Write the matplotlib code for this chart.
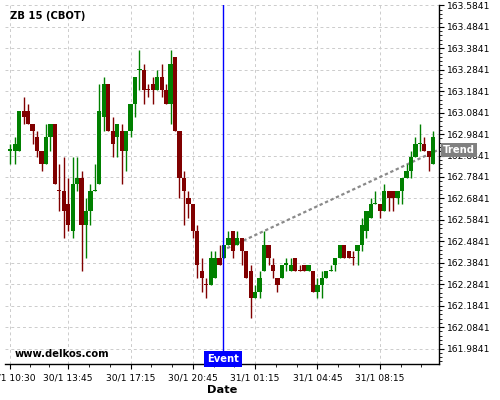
import matplotlib
matplotlib.use("Agg")
import matplotlib.pyplot as plt
import matplotlib.transforms as mtransforms
from matplotlib.ticker import FixedLocator, AutoMinorLocator
import numpy as np

# ZB 15-minute candles, prices quoted in 32nds above 162.00
base = 162.0
opens = [29, 29, 29, 35, 35, 33, 31, 29, 27, 31, 33, 23, 23, 21, 17, 24, 25, 18, 20, 23,
         24, 34, 39, 32, 31, 32, 29, 32, 36, 41, 41, 38, 39, 38, 40, 38, 36, 43, 32, 25,
         22, 21, 17, 11, 9, 9, 10, 13, 13, 15, 17, 15, 16, 14, 11, 7, 8, 11, 15, 12,
         10, 10, 12, 11, 13, 11, 12, 11, 11, 8, 9, 10, 11, 12, 13, 15, 14, 13, 14, 15,
         17, 19, 21, 21, 20, 23, 23, 22, 23, 25, 26, 28, 30, 30, 29, 27]
highs = [30, 31, 35, 37, 36, 33, 32, 29, 33, 33, 33, 27, 28, 25, 28, 28, 26, 22, 24, 27,
         39, 40, 39, 34, 33, 33, 32, 36, 40, 44, 42, 39, 40, 41, 42, 39, 44, 43, 32, 26,
         23, 21, 18, 13, 10, 14, 14, 15, 15, 17, 17, 17, 16, 14, 12, 9, 11, 17, 15, 13,
         10, 12, 13, 13, 13, 12, 12, 12, 11, 10, 11, 11, 12, 13, 15, 15, 14, 14, 15, 19,
         20, 22, 23, 21, 24, 23, 23, 23, 25, 27, 29, 31, 33, 31, 29, 32]
lows = [27, 27, 29, 33, 33, 30, 28, 26, 27, 29, 24, 20, 16, 17, 16, 23, 11, 13, 18, 23,
        24, 32, 32, 28, 28, 24, 26, 31, 34, 38, 36, 37, 36, 38, 37, 36, 33, 32, 22, 18,
        19, 16, 10, 8, 7, 9, 10, 12, 13, 15, 13, 15, 12, 10, 4, 7, 7, 11, 12, 10,
        8, 10, 11, 11, 11, 11, 11, 11, 8, 7, 7, 10, 11, 11, 13, 13, 13, 12, 12, 14,
        16, 19, 21, 19, 20, 20, 20, 21, 21, 25, 25, 28, 29, 29, 26, 27]
closes = [29, 30, 35, 34, 33, 32, 29, 27, 31, 33, 24, 23, 20, 18, 24, 25, 18, 20, 23, 23,
          35, 39, 32, 30, 33, 29, 32, 36, 40, 41, 38, 38, 38, 40, 38, 36, 42, 32, 25, 23,
          21, 17, 12, 10, 9, 13, 13, 12, 15, 16, 14, 16, 14, 10, 7, 8, 10, 15, 13, 11,
          9, 12, 12, 12, 11, 11, 11, 12, 8, 9, 10, 11, 11, 13, 15, 13, 13, 13, 15, 18,
          20, 21, 21, 20, 23, 22, 22, 23, 25, 26, 28, 30, 30, 29, 28, 31]
red_dojis = [11, 31, 44, 65, 77]

tick_pos = [0, 13, 27, 41, 55, 69, 83]
tick_labels = ["30/1 10:30", "30/1 13:45", "30/1 17:15", "30/1 20:45",
               "31/1 01:15", "31/1 04:45", "31/1 08:15"]
y_ticks = [161.9841 + 0.1 * k for k in range(17)]

event_x = 47.8
trend_x = [48.7, 96.3]
trend_y = [162.452, 162.912]

o = base + np.array(opens) / 32
h = base + np.array(highs) / 32
l = base + np.array(lows) / 32
c = base + np.array(closes) / 32
x = np.arange(len(o))

green = "#008000"
red = "#800000"
cols = []
for i in x:
    if c[i] > o[i]:
        cols.append(green)
    elif c[i] < o[i]:
        cols.append(red)
    else:
        cols.append(red if i in red_dojis else green)

fig = plt.figure(figsize=(5, 4), dpi=100)
ax = fig.add_axes([0.01, 0.09, 0.868, 0.898])

ax.vlines(x, l, h, colors=cols, linewidth=1.0, zorder=3)
ax.bar(x, np.maximum(np.abs(c - o), 0.006), bottom=np.minimum(o, c), width=0.95,
       color=cols, linewidth=0, zorder=4)

ax.plot(trend_x, trend_y, color="#8a8a8a", linestyle=(0, (1.5, 1.2)), linewidth=1.6, zorder=2)
ax.axvline(event_x, color="#0000ff", linewidth=1.0, zorder=5)

ax.set_xlim(-1.2, 96.3)
ax.set_ylim(161.912, 163.587)

ax.xaxis.set_major_locator(FixedLocator(tick_pos))
ax.set_xticklabels(tick_labels)
minor_x = []
for a, b in zip(tick_pos, tick_pos[1:] + [97]):
    minor_x += [a + (b - a) / 3, a + 2 * (b - a) / 3]
ax.xaxis.set_minor_locator(FixedLocator(minor_x))

ax.yaxis.tick_right()
ax.yaxis.set_major_locator(FixedLocator(y_ticks))
ax.set_yticklabels([f"{v:.4f}" for v in y_ticks])
ax.yaxis.set_minor_locator(AutoMinorLocator(5))

ax.tick_params(axis="both", which="major", labelsize=6.6, length=3.5, width=0.8, pad=2, direction="out")
ax.tick_params(axis="both", which="minor", length=2, width=0.6, direction="out")
ax.tick_params(axis="x", which="major", pad=3)

ax.grid(True, which="major", color="#cccccc", linestyle=(0, (3, 3)), linewidth=0.7, zorder=0)
ax.set_axisbelow(True)

for s in ["left", "top"]:
    ax.spines[s].set_visible(False)
ax.spines["right"].set_linewidth(1.0)
ax.spines["bottom"].set_linewidth(1.0)

ax.text(0.012, 0.968, "ZB 15 (CBOT)", transform=ax.transAxes, fontsize=7.2,
        fontweight="bold", ha="left", va="center")
ax.text(0.023, 0.028, "www.delkos.com", transform=ax.transAxes, fontsize=7.2,
        fontweight="bold", ha="left", va="center")

ax.set_xlabel("Date", fontsize=8.2, fontweight="bold", labelpad=2)

trans_ev = mtransforms.blended_transform_factory(ax.transData, ax.transAxes)
ax.text(event_x, 0.0, "Event", transform=trans_ev, fontsize=7.2, fontweight="bold",
        color="white", ha="center", va="bottom", zorder=6,
        bbox=dict(boxstyle="square,pad=0.3", fc="#0000ff", ec="none"))

trans_tr = mtransforms.blended_transform_factory(ax.transAxes, ax.transData)
ax.text(1.01, trend_y[-1], "Trend", transform=trans_tr, fontsize=7.2, fontweight="bold",
        color="white", ha="left", va="center", zorder=6, clip_on=False,
        bbox=dict(boxstyle="square,pad=0.2", fc="#808080", ec="none"))

fig.savefig("out.png", dpi=100)
